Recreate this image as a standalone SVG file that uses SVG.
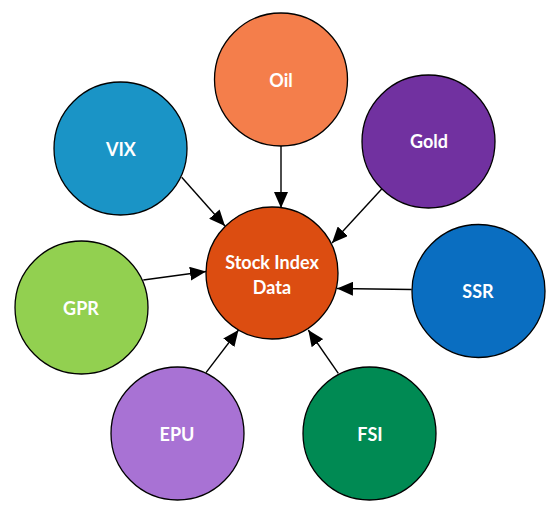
<svg xmlns="http://www.w3.org/2000/svg" width="550" height="518" viewBox="0 0 550 518">
<style>
.n{stroke:#000;stroke-width:1.3}
.t{font-family:Lato,"Liberation Sans",sans-serif;font-weight:bold;font-size:18px;fill:#fff;text-anchor:middle;dominant-baseline:central}
.c{stroke:#000;stroke-width:1.4;fill:none;marker-end:url(#ah)}
</style>
<defs>
<marker id="ah" markerUnits="userSpaceOnUse" viewBox="0 0 16 14" refX="16" refY="7" markerWidth="16" markerHeight="14" orient="auto">
<path d="M0,0 L16,7 L0,14 Z" fill="#000"/>
</marker>
</defs>
<rect width="550" height="518" fill="#fff"/>
<g id="connectors">
<line class="c" x1="281" y1="146" x2="281" y2="208"/>
<line class="c" x1="181.7" y1="177.3" x2="225" y2="226"/>
<line class="c" x1="381.7" y1="189" x2="332" y2="243"/>
<line class="c" x1="143.3" y1="280" x2="206" y2="271.5"/>
<line class="c" x1="411.7" y1="289.5" x2="337" y2="288.5"/>
<line class="c" x1="206" y1="372.7" x2="238.5" y2="330"/>
<line class="c" x1="338.3" y1="373.3" x2="308.3" y2="330"/>
</g>
<g id="center">
<circle class="n" cx="272" cy="273" r="66" fill="#DC4D11"/>
<text class="t" x="272" y="262">Stock Index</text>
<text class="t" x="272" y="287">Data</text>
</g>
<g id="oil">
<circle class="n" cx="281" cy="79.5" r="66.5" fill="#F47E4B"/>
<text class="t" x="281" y="80">Oil</text>
</g>
<g id="vix">
<circle class="n" cx="120.5" cy="148.5" r="66.5" fill="#1A94C6"/>
<text class="t" x="121" y="149">VIX</text>
</g>
<g id="gold">
<circle class="n" cx="428.5" cy="141.5" r="66.5" fill="#7131A0"/>
<text class="t" x="429" y="141">Gold</text>
</g>
<g id="gpr">
<circle class="n" cx="81.5" cy="307.5" r="66.5" fill="#92D050"/>
<text class="t" x="81" y="308">GPR</text>
</g>
<g id="ssr">
<circle class="n" cx="478.5" cy="291" r="66.5" fill="#0A6EC1"/>
<text class="t" x="478" y="291">SSR</text>
</g>
<g id="epu">
<circle class="n" cx="177.5" cy="433.5" r="66.5" fill="#A872D4"/>
<text class="t" x="177" y="434">EPU</text>
</g>
<g id="fsi">
<circle class="n" cx="369.5" cy="433.5" r="66.5" fill="#008A53"/>
<text class="t" x="370" y="434">FSI</text>
</g>
</svg>
